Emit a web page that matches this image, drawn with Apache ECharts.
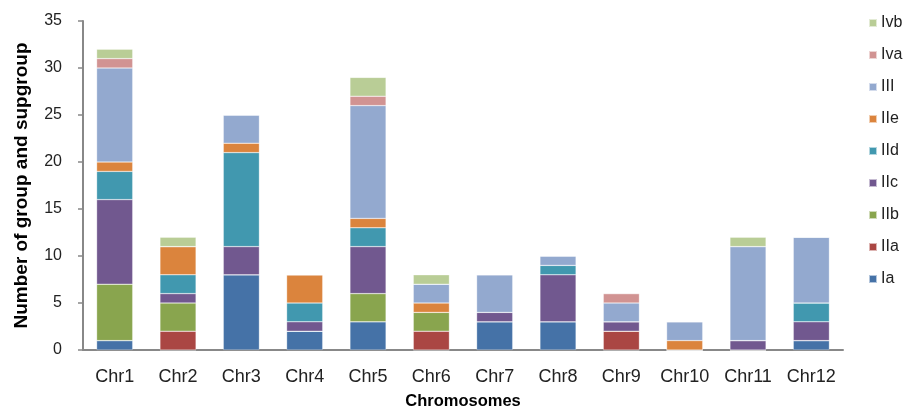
<!DOCTYPE html>
<html><head><meta charset="utf-8">
<script src="https://cdn.jsdelivr.net/npm/echarts@6/dist/echarts.min.js"></script>
<style>html,body{margin:0;padding:0;background:#fff}#c{width:912px;height:409px}</style>
</head><body><div id="c"></div>
<script>
const categories = ['Chr1','Chr2','Chr3','Chr4','Chr5','Chr6','Chr7','Chr8','Chr9','Chr10','Chr11','Chr12'];
const Ia   = [1,0,8,2,3,0,3,3,0,0,0,1];
const IIa  = [0,2,0,0,0,2,0,0,2,0,0,0];
const IIb  = [6,3,0,0,3,2,0,0,0,0,0,0];
const IIc  = [9,1,3,1,5,0,1,5,1,0,1,2];
const IId  = [3,2,10,2,2,0,0,1,0,0,0,2];
const IIe  = [1,3,1,3,1,1,0,0,0,1,0,0];
const III  = [10,0,3,0,12,2,4,1,2,2,10,7];
const IVa  = [1,0,0,0,1,0,0,0,1,0,0,0];
const IVb  = [1,1,0,0,2,1,0,0,0,0,1,0];
const seriesNames = ['Ia','IIa','IIb','IIc','IId','IIe','III','Iva','Ivb'];
const seriesData = [Ia,IIa,IIb,IIc,IId,IIe,III,IVa,IVb];
const colors = ['#4572A7','#AA4643','#89A54E','#71588F','#4198AF','#DB843D','#93A9CF','#D19392','#B9CD96'];
const yTicks = [0,5,10,15,20,25,30,35];

const font = 'Liberation Sans';
const chart = echarts.init(document.getElementById('c'));
chart.setOption({
  animation:false,
  color: colors,
  grid:{left:83, right:69, top:21, bottom:59, containLabel:false, outerBoundsMode:'none'},
  legend:{
    orient:'vertical', left:863, top:10, itemGap:16,
    itemWidth:8, itemHeight:8, icon:'rect',
    data: seriesNames.slice().reverse(),
    textStyle:{fontFamily:font, fontSize:16, color:'#222', padding:[0,0,0,-1]}
  },
  xAxis:{
    type:'category', data:categories,
    axisLine:{lineStyle:{color:'#888', width:2}},
    axisTick:{show:false},
    axisLabel:{fontFamily:font, fontSize:18, color:'#222', margin:18, interval:0},
    name:'Chromosomes', nameLocation:'middle', nameGap:43,
    nameTextStyle:{fontFamily:font, fontSize:16.5, fontWeight:'bold', color:'#000'}
  },
  yAxis:{
    type:'value', min:0, max:35, interval:5,
    axisLine:{show:true, lineStyle:{color:'#888', width:2}},
    axisTick:{show:true, length:5, lineStyle:{color:'#888', width:1.5}},
    splitLine:{show:false},
    axisLabel:{fontFamily:font, fontSize:16, color:'#222', margin:21,
      formatter:v=> yTicks.includes(v)? String(v):''},
    name:'Number of group and supgroup', nameLocation:'middle', nameGap:52,
    nameTextStyle:{fontFamily:font, fontSize:19, fontWeight:'bold', color:'#000'}
  },
  series: seriesNames.map((n,i)=>({
    name:n, type:'bar', stack:'t', data:seriesData[i],
    barWidth:'57%',
    itemStyle:{color:colors[i], borderColor:'rgba(255,255,255,0.6)', borderWidth:0.5}
  }))
});
</script></body></html>
